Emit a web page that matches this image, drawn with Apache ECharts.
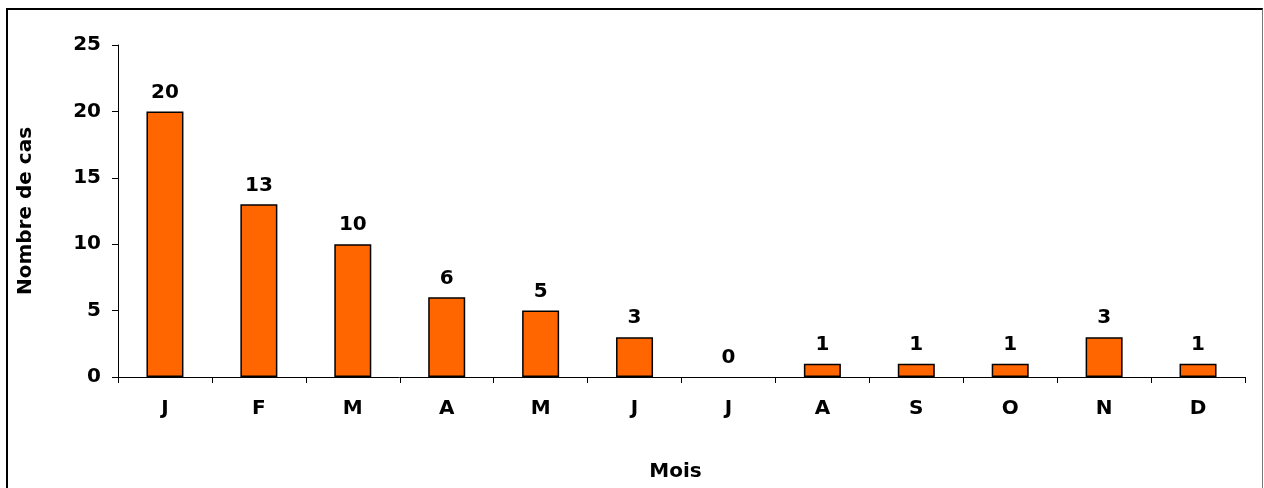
<!DOCTYPE html>
<html>
<head>
<meta charset="utf-8">
<script src="https://cdn.jsdelivr.net/npm/echarts@6/dist/echarts.min.js"></script>
<style>
html,body{margin:0;padding:0;background:#fff;overflow:hidden;width:1264px;height:488px;}
#frame{position:absolute;left:6px;top:8px;width:1257px;height:480px;border-left:2px solid #000;border-top:2px solid #000;border-right:1px solid #777;box-sizing:border-box;}
#chart{position:absolute;left:0;top:0;width:1264px;height:488px;}
</style>
</head>
<body>
<div id="frame"></div>
<div id="chart"></div>
<script>
const categories = ['J','F','M','A','M','J','J','A','S','O','N','D'];
const cases = [20,13,10,6,5,3,0,1,1,1,3,1];
const yTicks = {min:0, max:25, interval:5};
const xName = 'Mois';
const yName = 'Nombre de cas';

const font = 'DejaVu Sans';
const fs = 20;
const barData = cases.map(v => ({value: v, itemStyle: {borderWidth: v === 0 ? 0 : 1.5}}));
const chart = echarts.init(document.getElementById('chart'), null, {renderer:'canvas', width:1264, height:488});
chart.setOption({
  animation:false,
  grid:{left:118, right:19, top:45, bottom:111, containLabel:false, outerBoundsMode:'none'},
  xAxis:{
    type:'category',
    data:categories,
    name:xName,
    nameLocation:'middle',
    nameGap:85,
    nameTextStyle:{fontFamily:font, fontWeight:'bold', fontSize:fs, color:'#000', padding:[0,12,0,0]},
    axisLine:{lineStyle:{color:'#000', width:1}},
    axisTick:{show:true, length:6, lineStyle:{color:'#000'}, alignWithLabel:false},
    axisLabel:{fontFamily:font, fontWeight:'bold', fontSize:fs, color:'#000', margin:22}
  },
  yAxis:{
    type:'value',
    min:yTicks.min, max:yTicks.max, interval:yTicks.interval,
    name:yName,
    nameLocation:'middle',
    nameGap:82,
    nameTextStyle:{fontFamily:font, fontWeight:'bold', fontSize:fs, color:'#000'},
    axisLine:{show:true, lineStyle:{color:'#000', width:1}},
    axisTick:{show:true, length:6, lineStyle:{color:'#000'}},
    axisLabel:{fontFamily:font, fontWeight:'bold', fontSize:fs, color:'#000', margin:17},
    splitLine:{show:false}
  },
  series:[{
    type:'bar',
    data:barData,
    barWidth:37,
    itemStyle:{color:'#FF6600', borderColor:'#000', borderWidth:1.5},
    label:{show:true, position:'top', distance:9, fontFamily:font, fontWeight:'bold', fontSize:fs, color:'#000'}
  }]
});
</script>
</body>
</html>
